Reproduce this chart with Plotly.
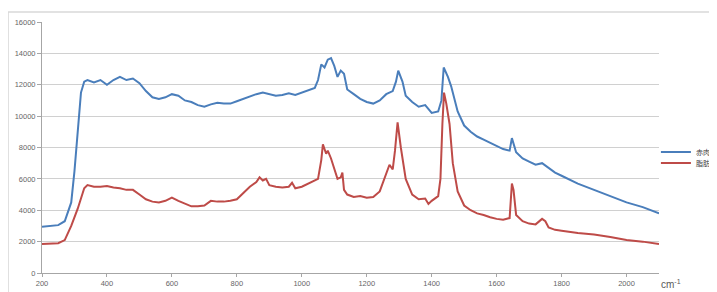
import plotly.graph_objects as go

# Raman shift (cm-1) and intensities
lean_x = [200, 250, 270, 290, 300, 310, 320, 330, 340, 360, 380, 400, 420, 440, 460, 480, 500,
          520, 540, 560, 580, 600, 620, 640, 660, 680, 700, 720, 740, 760, 780, 800, 820, 840,
          860, 880, 900, 920, 940, 960, 980, 1000, 1020, 1040, 1050, 1060, 1070, 1080, 1090,
          1100, 1110, 1120, 1130, 1140, 1160, 1180, 1200, 1220, 1240, 1260, 1280, 1290, 1297,
          1310, 1320, 1340, 1360, 1380, 1400, 1420, 1430, 1437, 1450, 1460, 1480, 1500, 1520,
          1540, 1560, 1580, 1600, 1620, 1640, 1647, 1660, 1680, 1700, 1720, 1740, 1760, 1780,
          1800, 1850, 1900, 1950, 2000, 2050, 2100]
lean_y = [2950, 3050, 3300, 4500, 6500, 9000, 11500, 12200, 12300, 12150, 12300, 12000, 12300,
          12500, 12300, 12400, 12100, 11600, 11200, 11100, 11200, 11400, 11300, 11000, 10900,
          10700, 10600, 10750, 10850, 10800, 10800, 10950, 11100, 11300, 11400, 11500, 11400,
          11300, 11350, 11450, 11350, 11500, 11600, 11800, 12300, 13300, 13100, 13600, 13700,
          13200, 12500, 12900, 12700, 11700, 11400, 11100, 10900, 10800, 11000, 11400, 11600,
          12200, 12900, 12200, 11300, 10900, 10600, 10700, 10200, 10300, 11000, 13100, 12500,
          11900, 10300, 9400, 9000, 8700, 8500, 8300, 8100, 7900, 7800, 8600, 7700, 7300, 7100,
          6900, 7000, 6700, 6400, 6200, 5700, 5300, 4900, 4500, 4200, 3800]

fat_x = [200, 250, 270, 290, 310, 330, 340, 360, 380, 400, 420, 440, 460, 480, 500, 520, 540,
         560, 580, 600, 620, 640, 660, 680, 700, 720, 740, 760, 780, 800, 820, 840, 860, 870,
         880, 890, 900, 920, 940, 960, 970, 980, 1000, 1020, 1040, 1050, 1060, 1065, 1075,
         1080, 1090, 1100, 1110, 1120, 1125, 1130, 1140, 1160, 1180, 1200, 1220, 1240, 1260,
         1270, 1280, 1287, 1295, 1305, 1320, 1340, 1360, 1380, 1390, 1400, 1420, 1427, 1433,
         1438, 1445, 1455, 1465, 1480, 1500, 1520, 1540, 1560, 1580, 1600, 1620, 1640, 1647,
         1652, 1660, 1680, 1700, 1720, 1740, 1750, 1760, 1780, 1800, 1850, 1900, 1950, 2000,
         2050, 2100]
fat_y = [1850, 1900, 2100, 3000, 4100, 5400, 5600, 5500, 5500, 5550, 5450, 5400, 5300, 5300,
         5000, 4700, 4550, 4500, 4600, 4800, 4600, 4400, 4250, 4250, 4300, 4600, 4550, 4550,
         4600, 4700, 5100, 5500, 5800, 6100, 5900, 6000, 5600, 5500, 5450, 5500, 5750, 5400,
         5500, 5700, 5900, 6000, 7200, 8200, 7600, 7800, 7300, 6600, 6000, 6100, 6400, 5300,
         5000, 4850, 4900, 4800, 4850, 5200, 6300, 6900, 6600, 7800, 9600, 8000, 6000, 5000,
         4700, 4750, 4400, 4600, 4900, 6000, 9500, 11500, 10800, 9500, 7000, 5200, 4300, 4000,
         3800, 3700, 3550, 3450, 3400, 3500, 5700, 5300, 3700, 3300, 3150, 3100, 3450, 3300,
         2900, 2750, 2700, 2550, 2450, 2300, 2100, 2000, 1850]

series_names = ["赤肉", "脂肪"]
x_ticks = [200, 400, 600, 800, 1000, 1200, 1400, 1600, 1800, 2000]
y_ticks = [0, 2000, 4000, 6000, 8000, 10000, 12000, 14000, 16000]

FONT = "Liberation Sans, Arial, sans-serif"

fig = go.Figure()
fig.add_trace(go.Scatter(x=lean_x, y=lean_y, mode="lines", name=series_names[0],
                         line=dict(color="#4a7ebb", width=2), legend="legend"))
fig.add_trace(go.Scatter(x=fat_x, y=fat_y, mode="lines", name=series_names[1],
                         line=dict(color="#be4b48", width=2), legend="legend2"))

leg_common = dict(xanchor="left", yanchor="middle",
                  font=dict(family="Noto Sans CJK JP", size=7, color="#404040"),
                  bgcolor="rgba(0,0,0,0)", itemwidth=30)

# page body has an 8px margin, so the figure is sized to fill the rest of the window
fig.update_layout(
    width=709, height=284,
    margin=dict(l=34, r=58, t=14, b=19, autoexpand=False),
    paper_bgcolor="white", plot_bgcolor="white",
    font=dict(family=FONT, size=8, color="#595959"),
    legend=dict(x=0.995, y=0.482, **leg_common),
    legend2=dict(x=0.995, y=0.438, **leg_common),
    showlegend=True,
)
fig.update_xaxes(range=[200, 2100], tickvals=x_ticks, showgrid=False, zeroline=False,
                 showline=True, linecolor="#a6a6a6", linewidth=1,
                 ticks="outside", ticklen=3, tickcolor="#a6a6a6",
                 tickfont=dict(size=7.5, color="#666666"))
fig.update_yaxes(range=[0, 16000], tickvals=y_ticks, ticktext=[str(v) for v in y_ticks],
                 showgrid=True, gridcolor="#d0d0d0",
                 gridwidth=1.2, zeroline=False, showline=True, linecolor="#a6a6a6", linewidth=1,
                 ticks="outside", ticklen=4, tickcolor="#a6a6a6",
                 tickfont=dict(size=7.5, color="#666666"))

# outer chart frame
fig.add_shape(type="rect", xref="paper", yref="paper", x0=-0.055, x1=1.2, y0=-0.2, y1=1.04,
              line=dict(color="#d9d9d9", width=1.5), fillcolor="rgba(0,0,0,0)", layer="below")

fig.add_annotation(text="cm<sup>-1</sup>", xref="paper", yref="paper", x=1.0, y=-0.012,
                   xanchor="left", yanchor="top", showarrow=False,
                   font=dict(family=FONT, size=10, color="#595959"))

fig.write_html("out.html")
